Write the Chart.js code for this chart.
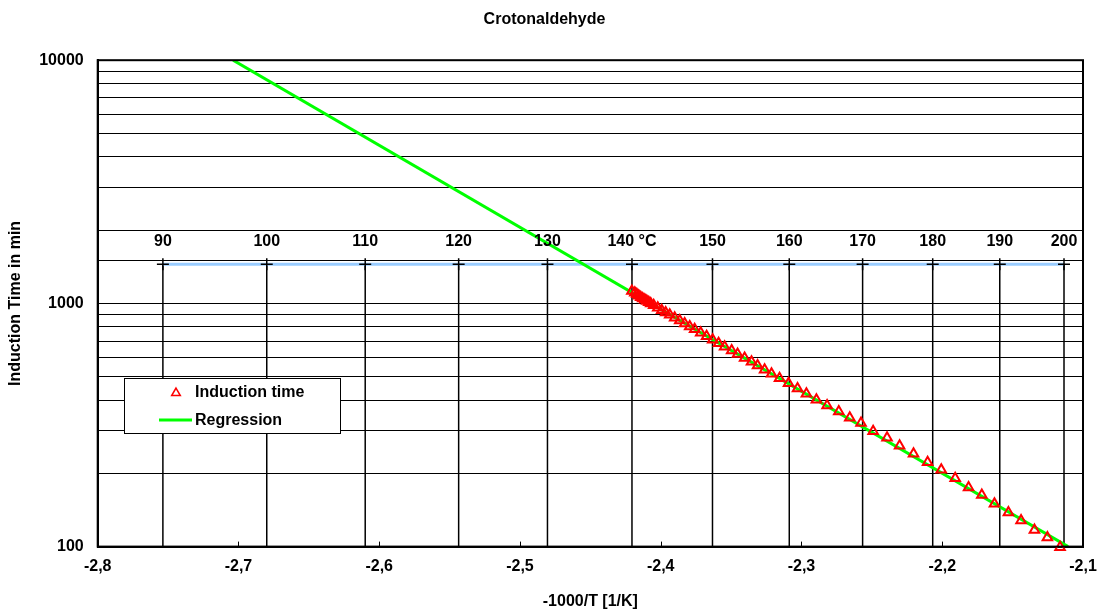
<!DOCTYPE html>
<html lang="en">
<head>
  <meta charset="UTF-8" />
  <title>Crotonaldehyde</title>
  <script src="https://cdn.jsdelivr.net/npm/chart.js"></script>
  <style>
    body {
      margin: 0;
      padding: 0;
      background: #fff;
    }
    .wrap {
      width: 1103px;
      height: 615px;
    }
  </style>
</head>
<body>
  <div class="wrap">
    <canvas id="chart" width="1103" height="615"></canvas>
  </div>

  <script>
    // measured points: x = -1000/T [1/K], y = induction time [min]
    const invT = [
      -2.4205, -2.4184, -2.4170, -2.4156, -2.4142, -2.4128, -2.4113, -2.4099, -2.4085, -2.4071,
      -2.4050, -2.4021, -2.3993, -2.3965, -2.3936, -2.3901, -2.3865, -2.3830, -2.3794, -2.3759,
      -2.3716, -2.3674, -2.3631, -2.3589, -2.3546, -2.3496, -2.3454, -2.3404, -2.3355, -2.3312,
      -2.3262, -2.3213, -2.3156, -2.3092, -2.3028, -2.2965, -2.2894, -2.2818, -2.2735, -2.2657,
      -2.2577, -2.2491, -2.2392, -2.2303, -2.2204, -2.2104, -2.2007, -2.1908, -2.1813, -2.1719,
      -2.1629, -2.1530, -2.1440, -2.1345, -2.1253, -2.1163
    ];
    const inductionTime = [
      1125, 1105, 1090, 1075, 1060, 1048, 1035, 1022, 1010, 998,
      982, 960, 938, 918, 898, 872, 850, 826, 804, 782,
      757, 733, 708, 686, 664, 640, 620, 597, 575, 556,
      534, 514, 492, 469, 447, 425, 402, 380, 359, 339,
      322, 298, 280, 260, 241, 222, 207, 191, 175, 163,
      150, 138, 128, 117, 109, 99.5
    ];

    // regression line end points
    const regX = [-2.7038, -2.1106];
    const regY = [10000, 100];

    // temperature scale drawn inside the plot
    const temps = [90, 100, 110, 120, 130, 140, 150, 160, 170, 180, 190, 200];
    const tempLabels = ['90', '100', '110', '120', '130', '140 °C', '150', '160', '170', '180', '190', '200'];
    const tempLineLevel = 1450;
    const tempX = temps.map(t => -1000 / (t + 273.15));

    const xTicks = [-2.8, -2.7, -2.6, -2.5, -2.4, -2.3, -2.2, -2.1];

    const font = "'Liberation Sans', Arial, sans-serif";
    const fontSize = 16;

    const datasets = [
      {
        label: 'Induction time',
        data: invT.map((x, i) => ({ x: x, y: inductionTime[i] })),
        showLine: false,
        pointStyle: 'triangle',
        pointRadius: 5.5,
        pointBorderColor: '#ff0000',
        pointBackgroundColor: 'rgba(0,0,0,0)',
        pointBorderWidth: 2,
        clip: 10
      },
      {
        label: 'Regression',
        data: regX.map((x, i) => ({ x: x, y: regY[i] })),
        showLine: true,
        borderColor: '#00ff00',
        borderWidth: 3,
        pointRadius: 0
      },
      {
        label: 'tempScale',
        data: tempX.map(x => ({ x: x, y: tempLineLevel })),
        showLine: true,
        borderColor: '#99ccff',
        borderWidth: 3,
        pointStyle: 'cross',
        pointRadius: 6,
        pointBorderColor: '#000',
        pointBorderWidth: 1.5
      }
    ];

    // vertical line for each temperature
    tempX.forEach(x => {
      datasets.push({
        label: 'tempLine',
        data: [{ x: x, y: tempLineLevel }, { x: x, y: 100 }],
        showLine: true,
        borderColor: '#000',
        borderWidth: 1.5,
        pointRadius: 0
      });
    });

    const extras = {
      id: 'extras',
      afterDatasetsDraw(chart) {
        const ctx = chart.ctx;
        const area = chart.chartArea;
        const xs = chart.scales.x;
        const ys = chart.scales.y;
        ctx.save();

        // temperature labels
        ctx.fillStyle = '#000';
        ctx.font = 'bold ' + fontSize + 'px ' + font;
        ctx.textAlign = 'center';
        ctx.textBaseline = 'middle';
        const ly = ys.getPixelForValue(tempLineLevel) - 23;
        tempX.forEach((x, i) => {
          ctx.fillText(tempLabels[i], xs.getPixelForValue(x), ly);
        });

        // inner ticks on the x axis
        ctx.strokeStyle = '#000';
        ctx.lineWidth = 1;
        xTicks.forEach(v => {
          const px = Math.round(xs.getPixelForValue(v)) + 0.5;
          ctx.beginPath();
          ctx.moveTo(px, area.bottom);
          ctx.lineTo(px, area.bottom - 5);
          ctx.stroke();
        });

        // frame
        ctx.lineWidth = 2;
        ctx.strokeRect(area.left, area.top, area.right - area.left, area.bottom - area.top);

        // legend
        const bx = 124, by = 378, bw = 216, bh = 55;
        ctx.fillStyle = '#fff';
        ctx.fillRect(bx, by, bw, bh);
        ctx.lineWidth = 1;
        ctx.strokeStyle = '#000';
        ctx.strokeRect(bx + 0.5, by + 0.5, bw, bh);

        ctx.strokeStyle = '#ff0000';
        ctx.lineWidth = 1.5;
        const tx = 176, ty = 393, r = 5;
        ctx.beginPath();
        ctx.moveTo(tx, ty - r);
        ctx.lineTo(tx + r * 0.866, ty + r * 0.5);
        ctx.lineTo(tx - r * 0.866, ty + r * 0.5);
        ctx.closePath();
        ctx.stroke();

        ctx.strokeStyle = '#00ff00';
        ctx.lineWidth = 3;
        ctx.beginPath();
        ctx.moveTo(159, 420);
        ctx.lineTo(192, 420);
        ctx.stroke();

        ctx.fillStyle = '#000';
        ctx.font = 'bold ' + fontSize + 'px ' + font;
        ctx.textAlign = 'left';
        ctx.fillText('Induction time', 195, 393);
        ctx.fillText('Regression', 195, 421);

        ctx.restore();
      }
    };

    const axisFont = { family: font, size: fontSize, weight: 'bold' };

    new Chart(document.getElementById('chart'), {
      type: 'scatter',
      data: { datasets: datasets },
      options: {
        responsive: false,
        animation: false,
        layout: { padding: { left: 6, right: 20, top: 0, bottom: 2 } },
        plugins: {
          legend: { display: false },
          tooltip: { enabled: false },
          title: {
            display: true,
            text: 'Crotonaldehyde',
            color: '#000',
            font: axisFont,
            padding: { top: 10, bottom: 31 }
          }
        },
        scales: {
          x: {
            type: 'linear',
            min: -2.8,
            max: -2.1,
            afterBuildTicks: axis => { axis.ticks = xTicks.map(v => ({ value: v })); },
            afterFit: axis => { axis.paddingRight = 20; },
            grid: { drawOnChartArea: false, drawTicks: false },
            border: { display: true, color: '#000', width: 2 },
            ticks: {
              color: '#000',
              padding: 10,
              font: axisFont,
              callback: v => v.toFixed(1).replace('.', ',')
            },
            title: {
              display: true,
              text: '-1000/T [1/K]',
              color: '#000',
              font: axisFont,
              padding: { top: 6, bottom: 2 }
            }
          },
          y: {
            type: 'logarithmic',
            min: 100,
            max: 10000,
            grid: { color: '#000', lineWidth: 1, drawTicks: false },
            border: { display: true, color: '#000', width: 2 },
            ticks: {
              color: '#000',
              padding: 14,
              autoSkip: false,
              font: axisFont,
              callback: v => ([100, 1000, 10000].includes(v) ? String(v) : '')
            },
            title: {
              display: true,
              text: 'Induction Time in min',
              color: '#000',
              font: axisFont,
              padding: { top: 0, bottom: 0 }
            }
          }
        }
      },
      plugins: [extras]
    });
  </script>
</body>
</html>
